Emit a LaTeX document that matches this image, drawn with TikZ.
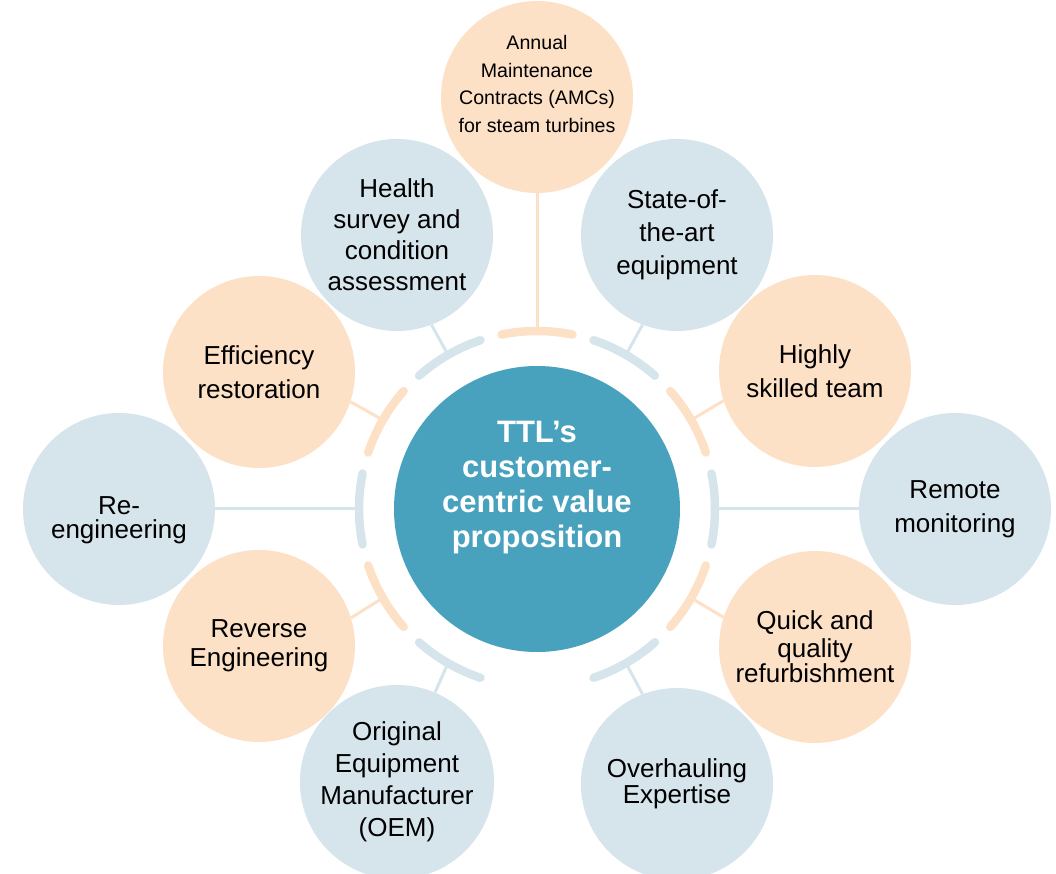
\documentclass[tikz,border=0pt]{standalone}
\usepackage{fontspec}
\setmainfont{Liberation Sans}
\usepackage{xcolor}
\usetikzlibrary{
    arrows,
    shapes,
    positioning,
    calc
}
\definecolor{hubteal}{RGB}{72,162,189}
\definecolor{paleblue}{RGB}{214,228,236}
\definecolor{palepeach}{RGB}{253,225,199}
\tikzset{
    blob/.style = {circle, minimum size = 192pt, inner sep = 0pt, align = center, text = black, font = \fontsize{26}{31}\selectfont},
    blueblob/.style = {blob, fill = paleblue},
    peachblob/.style = {blob, fill = palepeach},
    blobtxt/.style = {align = center, text = black, font = \fontsize{26}{31}\selectfont},
    seg/.style = {line width = 8.5pt, line cap = round},
    link/.style = {line width = 3pt}
}

\begin{document}
\begin{tikzpicture}[x = 1pt, y = 1pt]
                \clip (-537, -365) rectangle (519, 509);
                \node[circle, fill = hubteal, minimum size = 286pt] (ttl) at (0, 0) {};
                \node[text = white, align = center, font = \bfseries\fontsize{31}{35}\selectfont] (ttltxt) at ([yshift = 21]ttl.center) {TTL’s\\customer-\\centric value\\proposition};

                \node[peachblob] (amc) at (0, 412) {};
                \node[blobtxt, font = \fontsize{19.6}{27.5}\selectfont] (amctxt) at ([yshift = 13]amc.center) {Annual\\Maintenance\\Contracts (AMCs)\\for steam turbines};
                \node[blueblob] (soa) at (140, 274) {State-of-\\[2pt]the-art\\[2pt]equipment};
                \node[peachblob] (hst) at (278, 138) {Highly\\[3pt]skilled team};
                \node[blueblob] (rmt) at (418, 0) {Remote\\[3pt]monitoring};
                \node[peachblob] (qqr) at (278, -138) {Quick and\\[-3pt]quality\\[-6pt]refurbishment};
                \node[blueblob] (ohx) at (140, -275) {Overhauling\\[-5pt]Expertise};
                \node[blueblob] (oem) at (-140, -273) {Original\\[1pt]Equipment\\[1pt]Manufacturer\\[1pt](OEM)};
                \node[peachblob] (rev) at (-278, -137) {Reverse\\[-2pt]Engineering};
                \node[blueblob] (ree) at (-418, 0) {};
                \node[blobtxt] (reetxt) at ([yshift = -11]ree.center) {Re-\\[-7pt]engineering};
                \node[peachblob] (eff) at (-278, 137) {Efficiency\\[3pt]restoration};
                \node[blueblob] (hsc) at (-140, 274) {Health\\survey and\\condition\\assessment};

                \foreach \a/\c in {90/palepeach, 60/paleblue, 30/palepeach, 0/paleblue, -30/palepeach, -60/paleblue, -120/paleblue, -150/palepeach, 180/paleblue, 150/palepeach, 120/paleblue}{
                    \draw[seg, \c] (\a-11.5:178) arc (\a-11.5:\a+11.5:178);
                    \coordinate (r\a) at (\a:178);
                }

                \draw[link, palepeach] (r90) -- (amc.270);
                \draw[link, paleblue] (r60) -- (soa.249);
                \draw[link, palepeach] (r30) -- (hst.198);
                \draw[link, paleblue] (r0) -- (rmt.180);
                \draw[link, palepeach] (r-30) -- (qqr.162);
                \draw[link, paleblue] (r-60) -- (ohx.111);
                \draw[link, paleblue] (r-120) -- (oem.67);
                \draw[link, palepeach] (r-150) -- (rev.17);
                \draw[link, paleblue] (r180) -- (ree.0);
                \draw[link, palepeach] (r150) -- (eff.342);
                \draw[link, paleblue] (r120) -- (hsc.291);
            \end{tikzpicture}
\end{document}
